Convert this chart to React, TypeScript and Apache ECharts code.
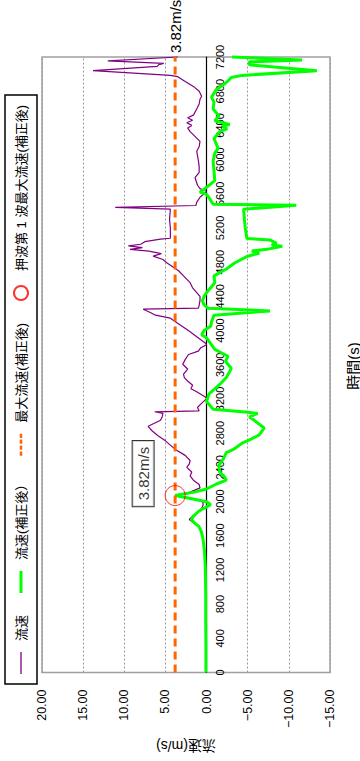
import React, { useEffect, useRef } from 'react';
import * as echarts from 'echarts';

// ---- data (time [s], velocity [m/s]) ----
const timeTicks = [0, 400, 800, 1200, 1600, 2000, 2400, 2800, 3200, 3600, 4000, 4400, 4800, 5200, 5600, 6000, 6400, 6800, 7200];
const velocityTicks = [-15, -10, -5, 0, 5, 10, 15, 20];

const rawVelocity: [number, number][] = [
  [0, 0.1], [300, 0.1], [600, 0.12], [900, 0.12], [1200, 0.15], [1420, 0.25], [1575, 0.45], [1650, 0.65],
  [1710, 0.95], [1745, 1.5], [1790, 2.1], [1830, 1.7], [1880, 1.0], [1920, 0.6], [1965, 0.4], [2000, 0.5],
  [2035, 1.8], [2070, 3.82], [2110, 2.0], [2160, 0.8], [2200, 0.9], [2250, 1.6], [2300, 2.0], [2345, 1.8],
  [2400, 2.4], [2440, 2.1], [2480, 2.0], [2540, 2.6], [2610, 3.8], [2710, 5.0], [2770, 5.9], [2825, 6.6],
  [2880, 7.1], [2950, 5.6], [2990, 5.4], [3032, 5.3], [3050, 6.3], [3060, 0.9], [3100, 1.1], [3130, 0.8],
  [3204, 0.0], [3227, 0.2], [3284, 1.2], [3320, 1.9], [3360, 1.7], [3410, 2.3], [3450, 2.7], [3490, 2.8],
  [3550, 2.3], [3606, 2.9], [3660, 2.6], [3720, 2.2], [3760, 1.0], [3800, 0.7], [3835, 0.0], [3858, 0.2],
  [3927, 1.2], [3985, 2.0], [4065, 3.2], [4145, 4.4], [4180, 6.2], [4215, 6.9], [4250, 7.7], [4262, 1.0],
  [4295, 0.9], [4353, 0.8], [4400, 0.8], [4445, 1.2], [4500, 1.7], [4560, 2.0], [4640, 2.8], [4700, 3.4],
  [4789, 4.8], [4831, 5.3], [4870, 6.5], [4900, 5.5], [4930, 7.0], [4950, 9.3], [4970, 7.8], [4990, 9.5],
  [5010, 8.0], [5040, 7.5], [5070, 5.6], [5080, 4.4], [5200, 4.4], [5300, 4.5], [5421, 4.4], [5442, 11.1],
  [5463, 1.3], [5500, 1.2], [5560, 0.8], [5600, 0.3], [5627, 0.0], [5660, 0.8], [5700, 1.1], [5788, 1.4],
  [5850, 0.9], [5920, 0.9], [5990, 1.0], [6098, 1.2], [6150, 0.9], [6213, 0.8], [6280, 1.5], [6327, 2.0],
  [6370, 2.3], [6400, 1.8], [6430, 2.4], [6460, 1.7], [6490, 2.3], [6520, 1.6], [6592, 1.2], [6650, 0.9],
  [6706, 0.8], [6740, 0.6], [6800, 0.9], [6856, 1.6], [6913, 2.6], [6970, 3.5], [6985, 4.4], [7040, 13.8],
  [7090, 6.0], [7110, 5.8], [7125, 5.2], [7155, 12.0], [7200, 3.5],
];

const correctedVelocity: [number, number][] = [
  [0, 0.08], [300, 0.08], [600, 0.1], [900, 0.1], [1230, 0.15], [1420, 0.25], [1575, 0.45], [1650, 0.65],
  [1710, 0.95], [1745, 1.4], [1790, 1.85], [1826, 1.6], [1883, 1.0], [1918, 0.4], [1964, -0.5], [1998, 0.0],
  [2033, 1.8], [2070, 3.82], [2110, 1.5], [2147, 0.0], [2205, -1.2], [2251, -2.4], [2285, -2.2], [2343, -1.6],
  [2423, -1.5], [2492, -2.0], [2572, -2.4], [2607, -3.2], [2687, -4.4], [2720, -5.2], [2780, -6.4], [2860, -7.0],
  [2950, -5.8], [2990, -5.2], [3030, -6.2], [3045, -5.0], [3080, -0.8], [3170, 0.0], [3260, -0.3], [3300, -0.8],
  [3370, -1.6], [3450, -2.4], [3520, -2.8], [3560, -3.0], [3640, -2.3], [3700, -2.6], [3780, -1.0], [3915, 0.0],
  [3950, 0.6], [4000, 0.3], [4050, -0.5], [4100, -0.6], [4180, -0.9], [4230, -7.7], [4260, -0.2], [4300, 0.3],
  [4350, 0.5], [4400, 0.3], [4445, 0.0], [4490, -0.4], [4560, -1.0], [4640, -0.9], [4720, -2.4], [4790, -3.4],
  [4870, -5.0], [4905, -6.4], [4930, -5.5], [4950, -7.3], [4985, -9.2], [5000, -7.9], [5020, -8.5], [5060, -7.7],
  [5076, -4.9], [5200, -4.7], [5300, -4.6], [5420, -4.5], [5466, -10.9], [5478, -0.8], [5540, -0.4], [5593, 0.0],
  [5620, 0.8], [5660, 0.2], [5753, -1.0], [5868, -0.9], [5983, -0.8], [6075, -1.0], [6132, -1.4], [6247, -0.9],
  [6327, -1.6], [6360, -2.5], [6390, -1.9], [6410, -2.8], [6454, -1.0], [6511, -1.5], [6592, -0.8], [6672, -0.9],
  [6730, -0.6], [6821, -1.2], [6902, -2.4], [6960, -3.0], [6985, -4.3], [7040, -13.4], [7108, -5.2], [7143, -5.2],
  [7166, -11.6], [7200, -3.1],
];

const maxVelocity = 3.82;
const peakTime = 2070;
const peakVelocity = 3.82;

const seriesNames = ['流速', '流速(補正後）', '最大流速(補正後)', '押波第 1 波最大流速(補正後)'];

const W = 761;
const H = 360;
const GRID = { left: 78, right: 57, top: 42, bottom: 30 };
const FONT = "'Liberation Sans', Arial, 'Noto Sans CJK JP', sans-serif";

function fmtVel(v: number) {
  return v.toFixed(2).replace('-', '\u2212');
}

export default function App() {
  const ref = useRef<HTMLDivElement>(null);
  useEffect(() => {
    const chart = echarts.init(ref.current!, null, { renderer: 'svg', width: W, height: H });
    const tMin = timeTicks[0];
    const tMax = timeTicks[timeTicks.length - 1];
    const vMin = velocityTicks[0];
    const vMax = velocityTicks[velocityTicks.length - 1];
    // distance from bottom of the plot to the zero line, so the time labels sit beside the zero line
    const plotH = H - GRID.top - GRID.bottom;
    const zeroFromBottom = (0 - vMin) / (vMax - vMin) * plotH;
    chart.setOption({
      animation: false,
      textStyle: { fontFamily: FONT, color: '#000' },
      grid: { ...GRID, show: true, borderColor: '#a0a0a0', borderWidth: 1.5, backgroundColor: '#fff' },
      legend: {
        left: 77,
        top: 5,
        orient: 'horizontal',
        padding: [8, 10, 8, 10],
        itemGap: 22,
        itemWidth: 22,
        itemHeight: 14,
        borderColor: '#000',
        borderWidth: 1.5,
        backgroundColor: '#fff',
        textStyle: { fontSize: 13, color: '#000', fontFamily: FONT, padding: [0, 0, 0, 6] },
        data: [
          { name: seriesNames[0], icon: 'path://M0,0h22v1.3h-22z' },
          { name: seriesNames[1], icon: 'path://M0,0h22v3h-22z' },
          { name: seriesNames[2], icon: 'path://M0,0h5v3h-5z M7,0h5v3h-5z M14,0h5v3h-5z M21,0h5v3h-5z' },
          { name: seriesNames[3], icon: 'circle', itemStyle: { color: 'rgba(0,0,0,0)', borderColor: '#ff0000', borderWidth: 2 } },
        ],
      },
      xAxis: {
        type: 'value',
        min: tMin,
        max: tMax,
        interval: timeTicks[1] - timeTicks[0],
        axisLine: { onZero: true, lineStyle: { color: '#000', width: 1.2 } },
        axisTick: { show: false },
        axisLabel: {
          fontSize: 11,
          color: '#000',
          margin: -(zeroFromBottom - 8),
          fontFamily: FONT,
          formatter: (v: number) => String(v),
        },
        splitLine: { show: false },
      },
      yAxis: {
        type: 'value',
        min: vMin,
        max: vMax,
        interval: velocityTicks[1] - velocityTicks[0],
        name: '流速(m/s)',
        nameLocation: 'middle',
        nameGap: 58,
        nameTextStyle: { fontSize: 14, color: '#000', fontFamily: FONT },
        axisLine: { show: false },
        axisTick: { show: false },
        axisLabel: { fontSize: 12.5, color: '#000', margin: 17, formatter: (v: number) => fmtVel(v), fontFamily: FONT },
        splitLine: { show: true, lineStyle: { color: '#999', type: [2, 2], width: 1 } },
      },
      graphic: [
        {
          type: 'text',
          x: 395,
          y: 353,
          style: { text: '時間(s)', fontSize: 15, fill: '#000', align: 'center', verticalAlign: 'middle', fontFamily: FONT },
        },
      ],
      series: [
        {
          name: seriesNames[0],
          type: 'line',
          data: rawVelocity,
          showSymbol: false,
          symbol: 'none',
          lineStyle: { color: '#800080', width: 1.2 },
          itemStyle: { color: '#800080' },
          z: 2,
        },
        {
          name: seriesNames[1],
          type: 'line',
          data: correctedVelocity,
          showSymbol: false,
          symbol: 'none',
          lineStyle: { color: '#00ff00', width: 3 },
          itemStyle: { color: '#00ff00' },
          z: 3,
        },
        {
          name: seriesNames[2],
          type: 'line',
          data: [[tMin, maxVelocity], [tMax, maxVelocity]],
          showSymbol: false,
          symbol: 'none',
          lineStyle: { color: '#ff6600', width: 3, type: [8, 5] },
          itemStyle: { color: '#ff6600' },
          endLabel: { show: true, formatter: `${maxVelocity.toFixed(2)}m/s`, fontSize: 15, color: '#000', distance: 4, fontFamily: FONT },
          z: 4,
        },
        {
          name: seriesNames[3],
          type: 'scatter',
          data: [[peakTime, peakVelocity]],
          symbol: 'circle',
          symbolSize: 20,
          itemStyle: { color: 'rgba(0,0,0,0)', borderColor: '#ff0000', borderWidth: 1 },
          label: {
            show: true,
            position: 'top',
            formatter: `${peakVelocity.toFixed(2)}m/s`,
            offset: [22, -6],
            fontSize: 15,
            color: '#000',
            backgroundColor: '#fff',
            borderColor: '#000',
            borderWidth: 1,
            padding: [3, 6],
            fontFamily: FONT,
          },
          z: 5,
        },
      ],
    });
    return () => chart.dispose();
  }, []);
  return (
    <div style={{ position: 'fixed', left: 0, top: 0, width: 360, height: 761, background: '#fff', overflow: 'hidden' }}>
      <div
        ref={ref}
        style={{
          position: 'absolute',
          left: 0,
          top: 0,
          width: W,
          height: H,
          transformOrigin: '0 0',
          transform: `translateY(${W}px) rotate(-90deg)`,
        }}
      />
    </div>
  );
}
